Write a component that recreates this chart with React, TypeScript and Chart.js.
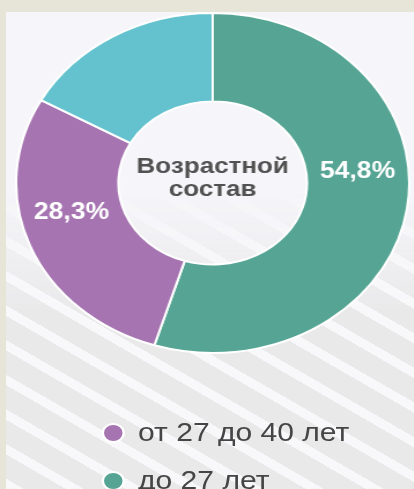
import React, { useEffect, useRef } from "react";
import { Chart, registerables } from "chart.js";

Chart.register(...registerables);

// ---- data ----
const categories = ["до 27 лет", "от 27 до 40 лет", "старше 40 лет"];
const shares = [54.8, 28.3, 16.9];
const sliceColors = ["#56a594", "#a674b1", "#63c2ce"];
const shareLabels = ["54,8%", "28,3%", ""];
const labelAngleNudge = [-14, 8, 0]; // degrees
const legendOrder = [1, 0, 2];
const centerLines = ["Возрастной", "состав"];

const SX = 1.156; // horizontal stretch of the reference

const labelsPlugin = {
  id: "donutText",
  afterDraw(chart: any) {
    const ctx = chart.ctx;
    const meta = chart.getDatasetMeta(0);
    ctx.save();
    ctx.textAlign = "center";
    ctx.textBaseline = "middle";
    let cx = 0;
    let cy = 0;
    meta.data.forEach((arc: any, i: number) => {
      const p = arc.getProps(["x", "y", "startAngle", "endAngle", "innerRadius", "outerRadius"], true);
      cx = p.x;
      cy = p.y;
      const txt = shareLabels[i];
      if (!txt) return;
      const mid = (p.startAngle + p.endAngle) / 2 + (labelAngleNudge[i] * Math.PI) / 180;
      const r = (p.innerRadius + p.outerRadius) / 2;
      ctx.font = 'bold 23px "Liberation Sans", Arial, sans-serif';
      ctx.fillStyle = "#ffffff";
      ctx.fillText(txt, p.x + r * Math.cos(mid), p.y + r * Math.sin(mid));
    });
    ctx.font = 'bold 22.5px "Liberation Sans", Arial, sans-serif';
    ctx.fillStyle = "#515151";
    ctx.fillText(centerLines[0], cx, cy - 16);
    ctx.fillText(centerLines[1], cx, cy + 7);
    ctx.restore();
  },
};

export default function App() {
  const ref = useRef<HTMLCanvasElement | null>(null);

  useEffect(() => {
    document.body.style.margin = "0";
    if (!ref.current) return;
    const chart = new Chart(ref.current, {
      type: "doughnut",
      data: {
        labels: categories,
        datasets: [
          {
            data: shares,
            backgroundColor: sliceColors,
            borderColor: "#ffffff",
            borderWidth: 2,
            hoverOffset: 0,
          },
        ],
      },
      options: {
        animation: false,
        responsive: true,
        maintainAspectRatio: false,
        devicePixelRatio: 1,
        cutout: "48%",
        layout: { padding: 0 },
        plugins: {
          legend: { display: false },
          tooltip: { enabled: false },
        },
      },
      plugins: [labelsPlugin],
    });
    return () => chart.destroy();
  }, []);

  const W = 414 / SX;

  return (
    <div
      style={{
        position: "fixed",
        left: 0,
        top: 0,
        width: 414,
        height: 489,
        overflow: "hidden",
        background: "#e7e5d8",
      }}
    >
      <div
        style={{
          position: "absolute",
          left: 6,
          top: 12,
          right: 0,
          bottom: 0,
          background: "#f6f6fa",
        }}
      >
        <div
          style={{
            position: "absolute",
            inset: 0,
            background:
              "repeating-linear-gradient(30deg, #f8f8fa 0px, #f8f8fa 9px, #e9e9ea 9px, #e9e9ea 30px)",
            maskImage: "linear-gradient(to bottom, transparent 180px, black 300px)",
            WebkitMaskImage: "linear-gradient(to bottom, transparent 180px, black 300px)",
          }}
        />
      </div>
      <div
        style={{
          position: "absolute",
          left: 0,
          top: 0,
          width: W,
          height: 489,
          transform: `scaleX(${SX})`,
          transformOrigin: "0 0",
        }}
      >
        <div
          style={{
            position: "absolute",
            left: 213 / SX - 171,
            top: 12,
            width: 342,
            height: 342,
          }}
        >
          <canvas ref={ref} />
        </div>
        <div
          style={{
            position: "absolute",
            left: 0,
            top: 412,
            width: W,
            fontFamily: '"Liberation Sans", Arial, sans-serif',
            fontSize: 26,
            color: "#454545",
          }}
        >
          {legendOrder.map((idx) => (
            <div
              key={idx}
              style={{
                position: "relative",
                height: 48,
                display: "flex",
                alignItems: "center",
              }}
            >
              <span
                style={{
                  position: "absolute",
                  left: 113 / SX - 10,
                  top: 11,
                  width: 16,
                  height: 16,
                  borderRadius: "50%",
                  background: sliceColors[idx],
                  border: "2px solid #ffffff",
                }}
              />
              <span
                style={{
                  position: "absolute",
                  left: 138 / SX,
                  top: 5,
                  lineHeight: "30px",
                  whiteSpace: "nowrap",
                }}
              >
                {categories[idx]}
              </span>
            </div>
          ))}
        </div>
      </div>
    </div>
  );
}
